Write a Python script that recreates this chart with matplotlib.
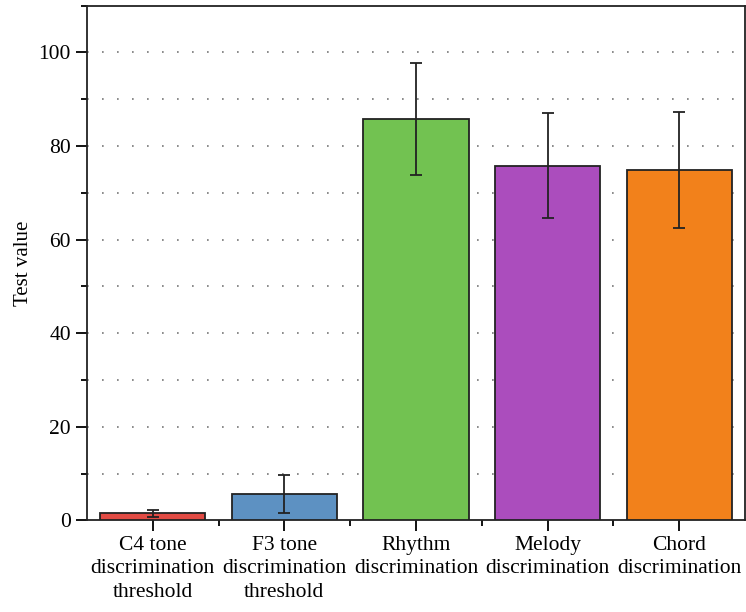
import matplotlib.pyplot as plt
from matplotlib.ticker import MultipleLocator, FixedLocator

plt.rcParams['font.family'] = ['Liberation Serif', 'DejaVu Serif']

# 数据
categories = ["C4 tone\ndiscrimination\nthreshold", "F3 tone\ndiscrimination\nthreshold",
              "Rhythm\ndiscrimination", "Melody\ndiscrimination", "Chord\ndiscrimination"]
values = [1.5, 5.6, 85.8, 75.8, 74.9]
errors = [0.7, 4.0, 12.0, 11.2, 12.4]
colors = ["#e24b44", "#5d91c2", "#72c251", "#ab4dbd", "#f2811b"]

fig = plt.figure(figsize=(7.46, 6.12), dpi=100)
ax = fig.add_axes([0.1166, 0.1498, 0.8820, 0.8410])

x = list(range(1, len(values) + 1))
ax.bar(x, values, width=0.8, color=colors, edgecolor="#222222", linewidth=1.3, zorder=3)
ax.errorbar(x, values, yerr=errors, fmt="none", ecolor="#222222", elinewidth=1.3,
            capsize=4.5, capthick=1.3, zorder=4)

ax.set_xlim(0.5, 5.5)
ax.set_ylim(0, 110)
ax.set_xticks(x)
ax.set_xticklabels(categories, fontsize=15.5, linespacing=1.3)
ax.xaxis.set_minor_locator(FixedLocator([1.5, 2.5, 3.5, 4.5]))
ax.yaxis.set_major_locator(MultipleLocator(20))
ax.yaxis.set_minor_locator(MultipleLocator(10))
ax.tick_params(axis="both", which="major", direction="out", length=8, width=1.3, labelsize=15.5)
ax.tick_params(axis="both", which="minor", direction="out", length=4, width=1.3)
ax.set_ylabel("Test value", fontsize=15, labelpad=4)

# 点状网格
for yv in range(10, 110, 10):
    ax.axhline(yv, color="#777777", linestyle=(0, (1, 8)), linewidth=1.2, zorder=1)

for s in ax.spines.values():
    s.set_linewidth(1.3)
    s.set_color("#222222")

fig.savefig("out.png", dpi=100)
